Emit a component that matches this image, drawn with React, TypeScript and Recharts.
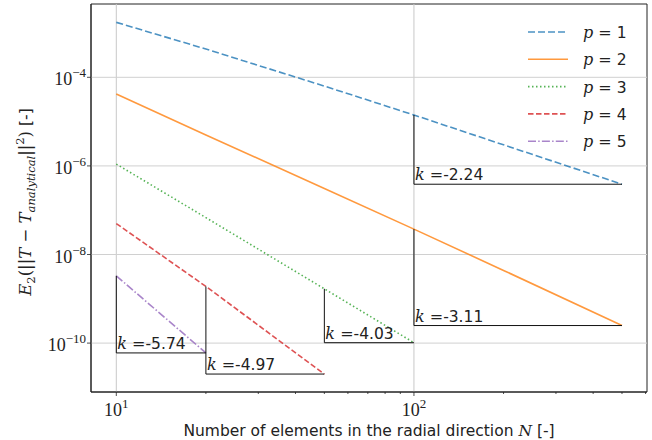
import { ComposedChart, Line, XAxis, YAxis, ReferenceLine, ReferenceDot, ReferenceArea, Legend } from 'recharts'

// number of elements N at which each order was evaluated
const nValues = [10, 20, 50, 100, 200, 500]

// error E2 for each polynomial order p
const errP1 = [1.74e-3, 4.35e-4, 6.34e-5, 1.41e-5, 2.99e-6, 3.86e-7]
const errP2 = [4.2e-5, 5.0e-6, 3.1e-7, 3.74e-8, 4.37e-9, 2.49e-10]
const errP3 = [1.1e-6, 6.8e-8, 1.68e-9, 1.02e-10]
const errP4 = [5.0e-8, 1.9e-9, 2.0e-11]
const errP5 = [3.3e-9, 6.0e-11]

const orders = [1, 2, 3, 4, 5]

// slope triangles: segment [from, to] on each series, with fitted k
const triFrom = [100, 100, 50, 20, 10]
const triTo = [500, 500, 100, 50, 20]
const kLabels = ['-2.24', '-3.11', '-4.03', '-4.97', '-5.74']

const xTicks = [10, 20, 30, 40, 50, 60, 70, 80, 90, 100, 200, 300, 400, 500, 600]
const xMajor = [10, 100]
const yTicks = [1e-10, 1e-8, 1e-6, 1e-4]

const series = [errP1, errP2, errP3, errP4, errP5]
const colors = ['#1f77b4', '#ff7f0e', '#2ca02c', '#d62728', '#9467bd']
const dashes = ['7 3', undefined, '1.5 2.5', '5.5 2.5', '8 2.2 1.5 2.2']

const SERIF = '"Liberation Serif", "DejaVu Serif", serif'
const MATH = '"DejaVu Serif", serif'
const SANS = '"DejaVu Sans", sans-serif'

const rows = series.map((s) => s.map((y, i) => ({ x: nValues[i], y })))

const triangles = orders.map((_, i) => {
  const s = series[i]
  const y0 = s[nValues.indexOf(triFrom[i])]
  const y1 = s[nValues.indexOf(triTo[i])]
  return {
    pts: [
      { x: triFrom[i], y: y0 },
      { x: triFrom[i], y: y1 },
      { x: triTo[i], y: y1 },
    ],
    x: triFrom[i],
    y: y1,
    k: kLabels[i],
  }
})

const xDomain = [Math.pow(10, 0.915), Math.pow(10, 2.783)]
const yDomain = [Math.pow(10, -11.104), Math.pow(10, -2.345)]

function XTick({ x, y, payload }: any) {
  const v = payload.value
  const major = xMajor.includes(v)
  return (
    <g>
      <line x1={x} x2={x} y1={y} y2={y + (major ? 4 : 2)} stroke="#222" strokeWidth={0.8} />
      {major && (
        <text x={x} y={y + 24} textAnchor="middle" fontFamily={SERIF} fontSize={18} fill="#222">
          10<tspan dy={-8} fontSize={13}>{Math.round(Math.log10(v))}</tspan>
        </text>
      )}
    </g>
  )
}

function YTick({ x, y, payload }: any) {
  const e = Math.round(Math.log10(payload.value))
  return (
    <g>
      <line x1={x} x2={x - 4} y1={y} y2={y} stroke="#222" strokeWidth={0.8} />
      <text x={x - 5} y={y + 8} textAnchor="end" fontFamily={SERIF} fontSize={18} fill="#222">
        10<tspan dy={-8} fontSize={13}>{'\u2212' + Math.abs(e)}</tspan>
      </text>
    </g>
  )
}

const XLabel = ({ viewBox }: any) => (
  <text x={viewBox.x + viewBox.width / 2} y={viewBox.y + 44} textAnchor="middle" fontFamily={SANS} fontSize={15.5} fill="#222">
    Number of elements in the radial direction <tspan fontFamily={MATH} fontStyle="italic">N</tspan> [-]
  </text>
)

const YLabel = () => (
  <text transform="translate(31,202) rotate(-90)" textAnchor="middle" fontFamily={MATH} fontSize={16.5} fill="#222">
    <tspan fontStyle="italic">E</tspan>
    <tspan fontSize={11.5} dy={4}>2</tspan>
    <tspan dy={-4}>(||</tspan>
    <tspan fontStyle="italic">T</tspan>
    <tspan> {'\u2212'} </tspan>
    <tspan fontStyle="italic">T</tspan>
    <tspan fontStyle="italic" fontSize={11.5} dy={4}>analytical</tspan>
    <tspan dy={-4}>||</tspan>
    <tspan fontSize={11.5} dy={-7}>2</tspan>
    <tspan dy={7}>)</tspan>
    <tspan fontFamily={SANS} fontSize={15.5}> [-]</tspan>
  </text>
)

const KLabel = ({ cx, cy, k }: any) => (
  <text x={cx + 1} y={cy - 4} fontSize={15.5} fill="#222">
    <tspan fontFamily={MATH} fontStyle="italic" fontSize={16}>k</tspan>
    <tspan fontFamily={MATH} fontSize={16}> =</tspan>
    <tspan fontFamily={SANS}>{k}</tspan>
  </text>
)

const LegendBox = () => (
  <svg width={125} height={140}>
    {orders.map((p, i) => {
      const cy = 18 + i * 27.3
      return (
        <g key={p}>
          <line x1={8} x2={48} y1={cy} y2={cy} stroke={colors[i]} strokeOpacity={0.8} strokeWidth={1.6} strokeDasharray={dashes[i]} />
          <text x={63} y={cy + 6} fontSize={16} fill="#222">
            <tspan fontFamily={MATH} fontStyle="italic">p</tspan>
            <tspan fontFamily={MATH}> = </tspan>
            <tspan fontFamily={SANS} fontSize={15.5}>{p}</tspan>
          </text>
        </g>
      )
    })}
  </svg>
)

export default function App() {
  return (
    <div style={{ position: 'absolute', left: 0, top: 0, background: '#fff' }}>
      <ComposedChart width={652} height={440} margin={{ top: 4, right: 5, left: 0, bottom: 0 }}>
        <XAxis
          xAxisId="b"
          dataKey="x"
          type="number"
          scale="log"
          domain={xDomain}
          allowDataOverflow
          ticks={xTicks}
          interval={0}
          tick={<XTick />}
          tickLine={false}
          tickSize={0}
          tickMargin={0}
          height={48}
          axisLine={{ stroke: '#222', strokeWidth: 1 }}
          label={<XLabel />}
        />
        <YAxis
          yAxisId="l"
          type="number"
          scale="log"
          domain={yDomain}
          allowDataOverflow
          ticks={yTicks}
          interval={0}
          tick={<YTick />}
          tickLine={false}
          tickSize={0}
          tickMargin={0}
          width={91}
          axisLine={{ stroke: '#222', strokeWidth: 1 }}
          label={<YLabel />}
        />

        {xMajor.map((v) => (
          <ReferenceLine key={'gx' + v} xAxisId="b" yAxisId="l" x={v} stroke="#c8c8c8" strokeWidth={1} />
        ))}
        {yTicks.map((v) => (
          <ReferenceLine key={'gy' + v} xAxisId="b" yAxisId="l" y={v} stroke="#d0d0d0" strokeWidth={1} />
        ))}

        {rows.map((r, i) => (
          <Line
            key={'p' + orders[i]}
            xAxisId="b"
            yAxisId="l"
            data={r}
            dataKey="y"
            stroke={colors[i]}
            strokeOpacity={0.8}
            strokeWidth={1.6}
            strokeDasharray={dashes[i]}
            dot={false}
            isAnimationActive={false}
          />
        ))}

        {triangles.map((t, i) => (
          <Line
            key={'t' + i}
            xAxisId="b"
            yAxisId="l"
            data={t.pts}
            dataKey="y"
            stroke="#111"
            strokeWidth={1}
            dot={false}
            legendType="none"
            isAnimationActive={false}
          />
        ))}
        {triangles.map((t, i) => (
          <ReferenceDot
            key={'k' + i}
            xAxisId="b"
            yAxisId="l"
            x={t.x}
            y={t.y}
            r={0}
            shape={(props: any) => <KLabel cx={props.cx} cy={props.cy} k={t.k} />}
          />
        ))}

        <ReferenceArea
          xAxisId="b"
          yAxisId="l"
          x1={xDomain[0]}
          x2={xDomain[1]}
          y1={yDomain[0]}
          y2={yDomain[1]}
          fill="none"
          stroke="#222"
          strokeWidth={1}
          ifOverflow="visible"
        />

        <Legend
          layout="vertical"
          align="center"
          verticalAlign="middle"
          wrapperStyle={{ position: 'absolute', left: 520, top: 14, width: 125, height: 140 }}
          content={<LegendBox />}
        />
      </ComposedChart>
    </div>
  )
}
